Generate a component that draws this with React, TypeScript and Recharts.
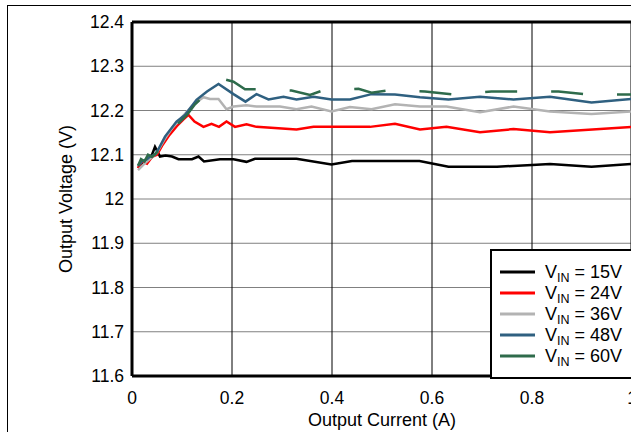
import React from 'react';
import { LineChart, Line, XAxis, YAxis, CartesianGrid, ReferenceLine, Legend, Label } from 'recharts';

const xTicks = [0, 0.2, 0.4, 0.6, 0.8, 1];
const yTicks = [11.6, 11.7, 11.8, 11.9, 12, 12.1, 12.2, 12.3, 12.4];

const vin15Current = [0.012, 0.022, 0.032, 0.04, 0.046, 0.056, 0.067, 0.08, 0.093, 0.12, 0.133, 0.144, 0.176, 0.203, 0.229, 0.246, 0.329, 0.399, 0.44, 0.575, 0.633, 0.73, 0.8, 0.836, 0.919, 1.0];
const vin15Voltage = [12.07, 12.08, 12.09, 12.1, 12.118, 12.096, 12.098, 12.096, 12.09, 12.09, 12.096, 12.085, 12.09, 12.09, 12.084, 12.091, 12.091, 12.078, 12.086, 12.086, 12.073, 12.073, 12.077, 12.079, 12.073, 12.079];

const vin24Current = [0.012, 0.02, 0.03, 0.04, 0.05, 0.06, 0.075, 0.09, 0.103, 0.113, 0.125, 0.143, 0.159, 0.174, 0.189, 0.206, 0.229, 0.249, 0.329, 0.363, 0.476, 0.526, 0.576, 0.629, 0.696, 0.763, 0.836, 1.0];
const vin24Voltage = [12.07, 12.085, 12.08, 12.095, 12.1, 12.12, 12.145, 12.165, 12.18, 12.19, 12.175, 12.163, 12.17, 12.163, 12.175, 12.163, 12.169, 12.163, 12.157, 12.163, 12.163, 12.17, 12.157, 12.163, 12.151, 12.158, 12.151, 12.163];

const vin36Current = [0.012, 0.025, 0.04, 0.05, 0.065, 0.08, 0.1, 0.12, 0.133, 0.143, 0.156, 0.173, 0.189, 0.203, 0.229, 0.249, 0.296, 0.329, 0.359, 0.399, 0.436, 0.479, 0.526, 0.576, 0.629, 0.696, 0.763, 0.836, 0.919, 1.0];
const vin36Voltage = [12.065, 12.08, 12.095, 12.105, 12.135, 12.16, 12.185, 12.21, 12.222, 12.23, 12.226, 12.226, 12.203, 12.209, 12.212, 12.209, 12.209, 12.203, 12.209, 12.198, 12.208, 12.203, 12.214, 12.209, 12.209, 12.196, 12.209, 12.198, 12.192, 12.198];

const vin48Current = [0.012, 0.02, 0.03, 0.036, 0.046, 0.053, 0.066, 0.089, 0.106, 0.129, 0.15, 0.173, 0.203, 0.227, 0.249, 0.273, 0.303, 0.329, 0.363, 0.399, 0.436, 0.479, 0.526, 0.576, 0.633, 0.696, 0.763, 0.836, 0.919, 1.0];
const vin48Voltage = [12.075, 12.085, 12.09, 12.096, 12.1, 12.113, 12.141, 12.175, 12.19, 12.224, 12.243, 12.26, 12.237, 12.22, 12.237, 12.225, 12.231, 12.225, 12.231, 12.225, 12.225, 12.237, 12.236, 12.23, 12.225, 12.231, 12.225, 12.231, 12.218, 12.226];

const vin60Current = [0.012, 0.018, 0.025, 0.032, 0.04, 0.05, 0.07, 0.09, 0.11, 0.126, 0.155, 0.186, 0.203, 0.226, 0.249, 0.285, 0.319, 0.356, 0.383, 0.42, 0.453, 0.479, 0.516, 0.586, 0.646, 0.719, 0.783, 0.853, 0.916, 1.0];
const vin60Voltage = [12.075, 12.09, 12.085, 12.1, 12.095, 12.105, 12.14, 12.168, 12.19, 12.214, 12.245, 12.27, 12.265, 12.248, 12.248, 12.247, 12.245, 12.235, 12.246, 12.247, 12.249, 12.24, 12.246, 12.243, 12.236, 12.243, 12.243, 12.243, 12.236, 12.236];

const seriesNames = ['15V', '24V', '36V', '48V', '60V'];
const seriesColors = ['#000000', '#ff0000', '#b3b3b3', '#2f6080', '#2e6b4b'];

const toPoints = (xs: number[], ys: number[]) => xs.map((x, i) => ({ x, y: ys[i] }));

const series = [
  toPoints(vin15Current, vin15Voltage),
  toPoints(vin24Current, vin24Voltage),
  toPoints(vin36Current, vin36Voltage),
  toPoints(vin48Current, vin48Voltage),
  toPoints(vin60Current, vin60Voltage),
];

const FONT = '"Liberation Sans", Arial, sans-serif';

const renderLegend = () => (
  <div
    style={{
      boxSizing: 'border-box',
      width: 170,
      height: 130,
      border: '2.5px solid #000',
      background: '#fff',
      paddingTop: 11,
      fontFamily: FONT,
      color: '#000',
    }}
  >
    {seriesNames.map((name, i) => (
      <div key={name} style={{ height: 20.8, display: 'flex', alignItems: 'center' }}>
        <svg width={50} height={10} style={{ display: 'block' }}>
          <line x1={8} y1={5} x2={43} y2={5} stroke={seriesColors[i]} strokeWidth={3} />
        </svg>
        <span style={{ fontSize: 18, lineHeight: '20px', whiteSpace: 'nowrap', marginLeft: 3 }}>
          V<sub style={{ fontSize: 12.5, verticalAlign: '-4px', lineHeight: 0 }}>IN</sub> = {name}
        </span>
      </div>
    ))}
  </div>
);

export default function App() {
  return (
    <div style={{ position: 'absolute', left: 0, top: 0, width: 631, height: 432, overflow: 'hidden', background: '#fff', fontFamily: FONT }}>
      <div
        style={{
          position: 'absolute',
          left: 7,
          top: 5,
          width: 700,
          height: 500,
          borderTop: '1px solid #000',
          borderLeft: '1px solid #000',
        }}
      />
      <div style={{ position: 'absolute', left: 0, top: 0 }}>
        <LineChart width={700} height={432} margin={{ top: 22, right: 68, left: 0, bottom: 6 }}>
          <CartesianGrid vertical={false} stroke="#808080" strokeWidth={1} />
          <CartesianGrid horizontal={false} stroke="#000000" strokeWidth={1} />
          <XAxis
            type="number"
            dataKey="x"
            domain={[0, 1]}
            ticks={xTicks}
            height={50}
            tickLine={false}
            tickMargin={9.5}
            axisLine={{ stroke: '#000', strokeWidth: 3 }}
            tick={{ fill: '#000', fontSize: 17.5, fontFamily: FONT }}
            allowDataOverflow
          >
            <Label value="Output Current (A)" position="insideBottom" offset={0} style={{ fill: '#000', fontSize: 18, fontFamily: FONT }} />
          </XAxis>
          <YAxis
            type="number"
            dataKey="y"
            domain={[11.6, 12.4]}
            ticks={yTicks}
            width={132}
            tickLine={false}
            axisLine={{ stroke: '#000', strokeWidth: 3 }}
            tick={{ fill: '#000', fontSize: 17.5, fontFamily: FONT }}
            allowDataOverflow
          >
            <Label value="Output Voltage (V)" position="center" angle={-90} style={{ fill: '#000', fontSize: 18, fontFamily: FONT, textAnchor: 'middle' }} />
          </YAxis>
          <ReferenceLine y={12.4} stroke="#000" strokeWidth={3} />
          <ReferenceLine x={1} stroke="#000" strokeWidth={3} />
          {series.map((data, i) => (
            <Line
              key={seriesNames[i]}
              data={data}
              dataKey="y"
              name={seriesNames[i]}
              type="linear"
              stroke={seriesColors[i]}
              strokeWidth={2.5}
              strokeDasharray={i === 4 ? '32 34' : undefined}
              dot={false}
              activeDot={false}
              isAnimationActive={false}
            />
          ))}
          <Legend
            layout="horizontal"
            verticalAlign="middle"
            align="center"
            content={renderLegend}
            wrapperStyle={{ position: 'absolute', left: 490, top: 249, width: 170, height: 130 }}
          />
        </LineChart>
      </div>
    </div>
  );
}
